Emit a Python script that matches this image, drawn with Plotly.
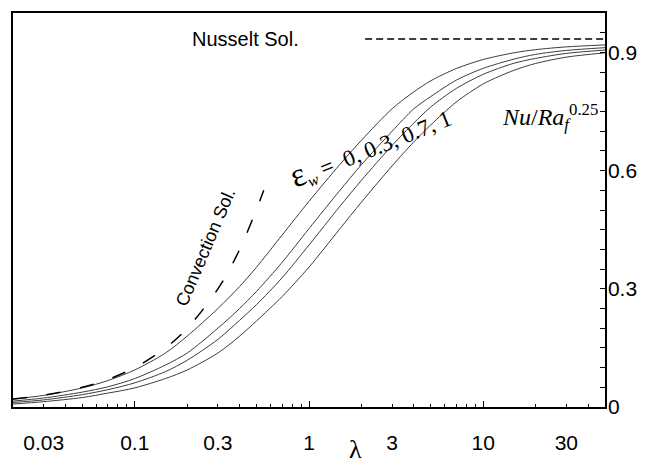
import math
import plotly.graph_objects as go

# ---- data ----
lam = [0.02, 0.03, 0.05, 0.07, 0.1, 0.15, 0.2, 0.3, 0.4, 0.5, 0.7, 1, 1.5, 2, 3, 4, 5, 7, 10, 15, 20, 30, 50]
nu_eps0 = [0.0200, 0.0295, 0.0485, 0.0670, 0.0940, 0.1370, 0.1800, 0.2500, 0.3060, 0.3550, 0.4360, 0.5220,
           0.6150, 0.6770, 0.7570, 0.8000, 0.8280, 0.8590, 0.8820, 0.8990, 0.9070, 0.9140, 0.9190]
nu_eps03 = [0.0150, 0.0228, 0.0378, 0.0512, 0.0722, 0.1065, 0.1370, 0.2000, 0.2500, 0.2935, 0.3667, 0.4527,
            0.5490, 0.6150, 0.7000, 0.7570, 0.7880, 0.8295, 0.8595, 0.8830, 0.8950, 0.9050, 0.9120]
nu_eps07 = [0.0115, 0.0180, 0.0314, 0.0439, 0.0613, 0.0898, 0.1187, 0.1717, 0.2202, 0.2599, 0.3277, 0.4110,
            0.5087, 0.5754, 0.6640, 0.7209, 0.7616, 0.8084, 0.8444, 0.8724, 0.8848, 0.8975, 0.9060]
nu_eps1 = [0.0075, 0.0135, 0.0240, 0.0352, 0.0485, 0.0722, 0.0940, 0.1370, 0.1800, 0.2186, 0.2800, 0.3550,
           0.4517, 0.5200, 0.6120, 0.6730, 0.7160, 0.7740, 0.8200, 0.8545, 0.8720, 0.8880, 0.8990]

lam_conv = [0.02, 0.03, 0.05, 0.07, 0.1, 0.15, 0.2, 0.3, 0.4, 0.55]
nu_conv = [0.02, 0.03, 0.05, 0.07, 0.1, 0.15, 0.2, 0.3, 0.4, 0.55]

lam_nusselt = [2.1, 50]
nu_nusselt = [0.934, 0.934]

x_tick_vals = [0.03, 0.1, 0.3, 1, 3, 10, 30]
x_tick_text = ["0.03", "0.1", "0.3", "1", "3", "10", "30"]
x_minor_vals = [0.02, 0.04, 0.05, 0.06, 0.07, 0.08, 0.09,
                0.2, 0.4, 0.5, 0.6, 0.7, 0.8, 0.9,
                2, 4, 5, 6, 7, 8, 9, 20, 40, 50]
x_decade_vals = [0.1, 1, 10]
y_tick_vals = [0, 0.3, 0.6, 0.9]
y_tick_text = ["0", "0.3", "0.6", "0.9"]

x_range = [math.log10(0.02), math.log10(50)]

fig = go.Figure()
for series in [nu_eps0, nu_eps03, nu_eps07, nu_eps1]:
    fig.add_trace(go.Scatter(x=lam, y=series, mode="lines",
                             line=dict(color="#3c3c3c", width=1, shape="spline", smoothing=0.8),
                             showlegend=False, hoverinfo="skip"))
fig.add_trace(go.Scatter(x=lam_conv, y=nu_conv, mode="lines",
                         line=dict(color="black", width=1.5, dash="14px,20px", shape="spline"),
                         showlegend=False, hoverinfo="skip"))
fig.add_trace(go.Scatter(x=lam_nusselt, y=nu_nusselt, mode="lines",
                         line=dict(color="black", width=1.5, dash="7px,4px"),
                         showlegend=False, hoverinfo="skip"))
# helper trace for the decade tick overlay axis
fig.add_trace(go.Scatter(x=[1], y=[None], xaxis="x2", mode="lines",
                         showlegend=False, hoverinfo="skip"))

tick_font = dict(family="Liberation Sans, Arial", size=21, color="black")

fig.update_layout(
    width=651, height=465,
    margin=dict(l=13, r=46, t=11, b=54),
    paper_bgcolor="white", plot_bgcolor="white",
    showlegend=False,
    xaxis=dict(type="log", range=x_range, tickmode="array",
               tickvals=x_tick_vals, ticktext=x_tick_text,
               ticks="inside", ticklen=3, tickwidth=1, tickcolor="black",
               minor=dict(tickmode="array", tickvals=x_minor_vals, ticks="inside",
                          ticklen=3, tickwidth=1, tickcolor="black", showgrid=False),
               showline=True, linecolor="black", linewidth=1.5, mirror=True,
               showgrid=False, zeroline=False, tickfont=tick_font,
               ticklabelstandoff=16),
    xaxis2=dict(type="log", range=x_range, overlaying="x", anchor="y", side="bottom",
                tickmode="array", tickvals=x_decade_vals, ticks="inside", ticklen=6,
                tickwidth=1, tickcolor="black", showticklabels=False,
                showline=False, showgrid=False, zeroline=False),
    yaxis=dict(range=[0, 1.0], side="right", tickmode="array",
               tickvals=y_tick_vals, ticktext=y_tick_text,
               ticks="inside", ticklen=5, tickwidth=1, tickcolor="black",
               minor=dict(dtick=0.05, ticks="inside", ticklen=5, tickwidth=1,
                          tickcolor="black", showgrid=False),
               showline=True, linecolor="black", linewidth=1.5, mirror=True,
               showgrid=False, zeroline=False, tickfont=tick_font,
               ticklabelstandoff=-3),
)

sans = "Liberation Sans, Arial"
serif = "Liberation Serif, Times New Roman"
annotations = [
    dict(text="Nusselt Sol.", x=0.392, y=0.935, font=dict(family=sans, size=20)),
    dict(text="Convection Sol.", x=0.326, y=0.405, textangle=-67, font=dict(family=sans, size=18)),
    dict(text='<span style="font-size:34px">ε</span><sub><i>w</i></sub> =  0, 0.3, 0.7, 1',
         x=0.603, y=0.6625, textangle=-22, font=dict(family=serif, size=23)),
    dict(text='<i>Nu</i>/<i>Ra</i><sub><i>f</i></sub><sup>0.25</sup>',
         x=0.907, y=0.735, font=dict(family=serif, size=24)),
    dict(text="λ", x=0.578, y=-0.107, font=dict(family=serif, size=26)),
]
for a in annotations:
    a.update(xref="paper", yref="paper", showarrow=False, xanchor="center", yanchor="middle")
    a["font"]["color"] = "black"
    fig.add_annotation(**a)

fig.write_html("out.html")
